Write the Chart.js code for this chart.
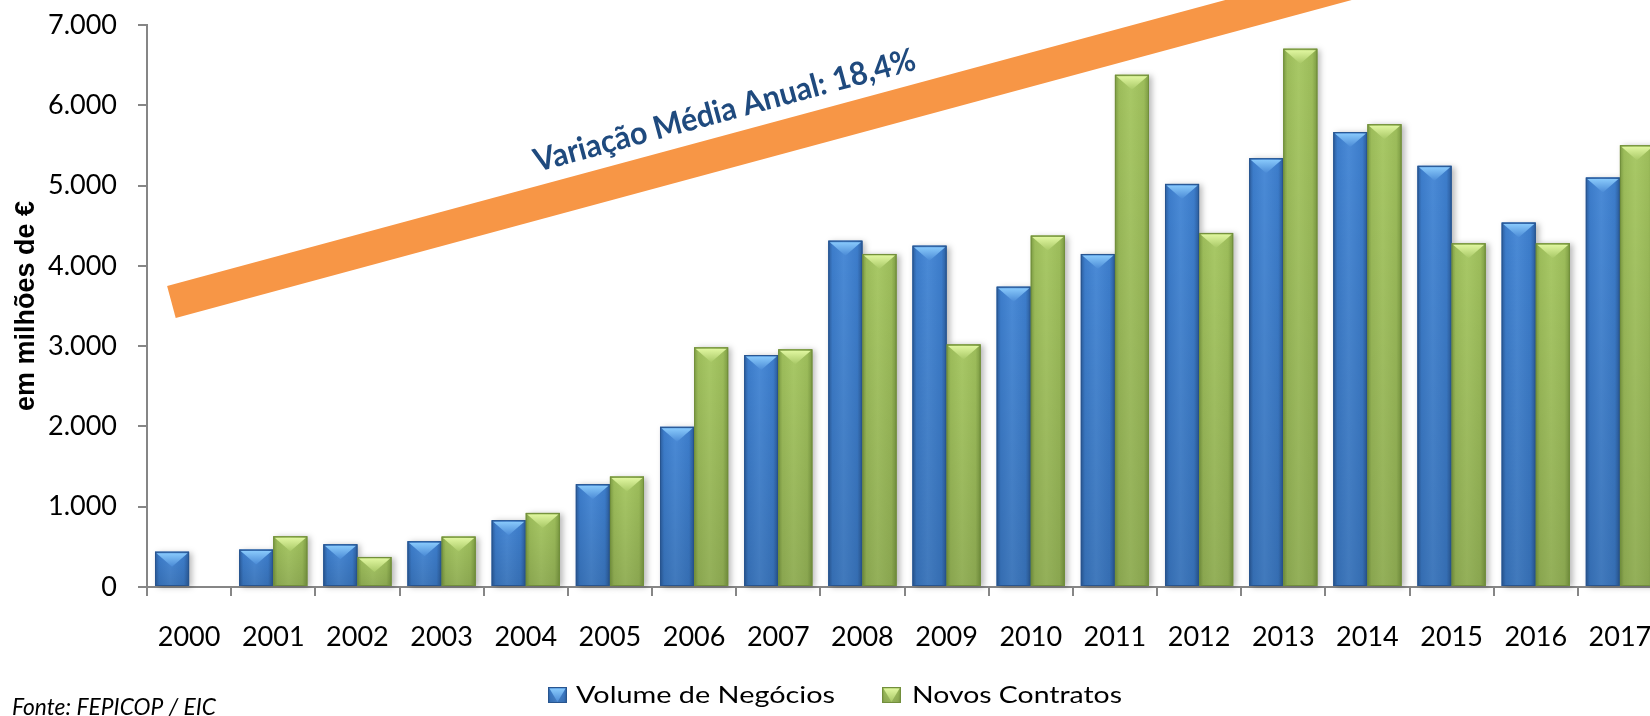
<!DOCTYPE html>
<html><head><meta charset="utf-8">
<script src="https://cdn.jsdelivr.net/npm/chart.js@4.4.1/dist/chart.umd.min.js"></script>
<style>
html,body{margin:0;padding:0;background:#fff;overflow:hidden;width:1650px;height:716px;}
#wrap{position:absolute;left:0;top:0;width:1700px;height:716px;}
</style></head><body>
<div id="wrap"><canvas id="c" width="1700" height="716"></canvas></div>
<script>
// ---- data ----
const years = ['2000','2001','2002','2003','2004','2005','2006','2007','2008','2009','2010','2011','2012','2013','2014','2015','2016','2017'];
const volumeNegocios = [440,466,532,570,832,1281,1995,2889,4314,4252,3741,4148,5021,5341,5666,5246,4539,5100];
const novosContratos = [null,632,374,628,923,1376,2985,2960,4148,3022,4377,6380,4410,6705,5765,4281,4281,5503];
const seriesNames = ['Volume de Negócios','Novos Contratos'];
const yTickLabels = ['0','1.000','2.000','3.000','4.000','5.000','6.000','7.000'];
const yAxisTitle = 'em milhões de €';
const trendLabel = 'Variação Média Anual: 18,4%';
const trendStart = [-0.21, 3550];   // [category index, value]
const trendEnd = [14, 7577];
const sourceNote = 'Fonte: FEPICOP / EIC';

// ---- styles ----
const palettes = [
  {dark:'#2b5c9c', mid:'#3c7cca', light:'#4a8ad6', cap:'#8fd0ff', edge:'#28558f'},
  {dark:'#7b9a42', mid:'#9cbc5a', light:'#a8c866', cap:'#e6fba6', edge:'#728f3c'}
];
const FONT = 'Lato, "Open Sans", sans-serif';

function paintBar(ctx, left, top, right, bottom, p, shadow) {
  const w = right - left, h = bottom - top;
  if (h <= 0) return;
  ctx.save();
  if (shadow) {
    ctx.shadowColor = 'rgba(0,0,0,0.28)';
    ctx.shadowBlur = 6;
    ctx.shadowOffsetX = 3;
    ctx.shadowOffsetY = 1;
  }
  const g = ctx.createLinearGradient(left, 0, right, 0);
  g.addColorStop(0, p.dark);
  g.addColorStop(0.12, p.mid);
  g.addColorStop(0.45, p.light);
  g.addColorStop(0.85, p.mid);
  g.addColorStop(1, p.dark);
  ctx.fillStyle = g;
  ctx.fillRect(left, top, w, h);
  ctx.restore();
  ctx.save();
  const gv = ctx.createLinearGradient(0, top, 0, bottom);
  gv.addColorStop(0, 'rgba(0,0,0,0)');
  gv.addColorStop(1, 'rgba(0,0,0,0.12)');
  ctx.fillStyle = gv;
  ctx.fillRect(left, top, w, h);
  const capH = Math.min(15, h);
  const gc = ctx.createLinearGradient(0, top, 0, top + capH);
  gc.addColorStop(0, p.cap);
  gc.addColorStop(1, p.light);
  ctx.fillStyle = gc;
  ctx.beginPath();
  ctx.moveTo(left + 1.5, top + 1.5);
  ctx.lineTo(right - 1.5, top + 1.5);
  ctx.lineTo(left + w / 2, top + capH);
  ctx.closePath();
  ctx.fill();
  ctx.strokeStyle = p.edge;
  ctx.lineWidth = 1;
  ctx.strokeRect(left + 0.5, top + 0.5, w - 1, h - 1);
  ctx.restore();
}

const bevelPlugin = {
  id: 'bevel',
  afterDatasetsDraw(chart) {
    const ctx = chart.ctx;
    chart.data.datasets.forEach((ds, di) => {
      const meta = chart.getDatasetMeta(di);
      meta.data.forEach((el, i) => {
        if (ds.data[i] === null || ds.data[i] === undefined) return;
        const {x, y, base, width} = el.getProps(['x','y','base','width'], true);
        paintBar(ctx, x - width / 2, y, x + width / 2, base, palettes[di], true);
      });
    });
  }
};

const trendPlugin = {
  id: 'trend',
  beforeDatasetsDraw(chart) {
    const ctx = chart.ctx, xs = chart.scales.x, ys = chart.scales.y;
    const x0 = xs.getPixelForValue(trendStart[0]), y0 = ys.getPixelForValue(trendStart[1]);
    const x1 = xs.getPixelForValue(trendEnd[0]), y1 = ys.getPixelForValue(trendEnd[1]);
    ctx.save();
    ctx.strokeStyle = '#f79646';
    ctx.lineWidth = 33;
    ctx.lineCap = 'butt';
    ctx.beginPath();
    ctx.moveTo(x0, y0);
    ctx.lineTo(x1, y1);
    ctx.stroke();
    const ang = Math.atan2(y1 - y0, x1 - x0);
    ctx.translate(x0, y0);
    ctx.rotate(ang);
    ctx.font = 'bold 32px ' + FONT;
    const tw = ctx.measureText(trendLabel).width;
    const target = 394;
    ctx.translate(387, -30);
    ctx.scale(target / tw, 1);
    ctx.fillStyle = '#1f4a7e';
    ctx.textBaseline = 'alphabetic';
    ctx.textAlign = 'left';
    ctx.fillText(trendLabel, 0, 0);
    ctx.restore();
  }
};

function stretchedText(ctx, text, x, y, targetW) {
  const w = ctx.measureText(text).width;
  ctx.save();
  ctx.translate(x, y);
  ctx.scale(targetW / w, 1);
  ctx.fillText(text, 0, 0);
  ctx.restore();
}

const legendPlugin = {
  id: 'customLegend',
  afterDraw(chart) {
    const ctx = chart.ctx;
    const items = [{sx:548, tx:576, tw:259}, {sx:882, tx:912, tw:210}];
    const cy = 695;
    ctx.save();
    ctx.font = '24px ' + FONT;
    ctx.textBaseline = 'middle';
    ctx.textAlign = 'left';
    chart.data.datasets.forEach((ds, di) => {
      const it = items[di];
      paintBar(ctx, it.sx, cy - 8, it.sx + 19, cy + 8, palettes[di], false);
      ctx.fillStyle = '#000';
      stretchedText(ctx, ds.label, it.tx, cy, it.tw);
    });
    ctx.font = 'italic 23px ' + FONT;
    ctx.textBaseline = 'alphabetic';
    ctx.fillStyle = '#000';
    stretchedText(ctx, sourceNote, 12, 715, 204);
    ctx.restore();
  }
};

Chart.defaults.color = '#000';
Chart.defaults.font.family = FONT;

new Chart(document.getElementById('c'), {
  type: 'bar',
  data: {
    labels: years,
    datasets: [
      {label: seriesNames[0], data: volumeNegocios, backgroundColor: palettes[0].mid, borderWidth: 0},
      {label: seriesNames[1], data: novosContratos, backgroundColor: palettes[1].mid, borderWidth: 0}
    ]
  },
  options: {
    responsive: false,
    animation: false,
    events: [],
    devicePixelRatio: 1,
    categoryPercentage: 0.81,
    barPercentage: 1.0,
    layout: {padding: {left: 0, right: 38, top: 25, bottom: 0}},
    plugins: {legend: {display: false}, tooltip: {enabled: false}},
    scales: {
      x: {
        offset: true,
        grid: {offset: true, drawOnChartArea: false, drawTicks: true, tickLength: 9, color: '#868686', lineWidth: 2},
        border: {color: '#868686', width: 2},
        ticks: {font: {size: 27, family: FONT}, padding: 25, maxRotation: 0, autoSkip: false, color: '#000'},
        afterFit: (s) => { s.height = 129; s.paddingLeft = 0; s.paddingRight = 0; }
      },
      y: {
        min: 0, max: 7000,
        ticks: {stepSize: 1000, font: {size: 27, family: FONT}, padding: 21, color: '#000',
                callback: (v, i) => yTickLabels[i]},
        grid: {drawOnChartArea: false, drawTicks: true, tickLength: 9, color: '#868686', lineWidth: 2},
        border: {color: '#868686', width: 2},
        title: {display: true, text: yAxisTitle, color: '#000',
                font: {size: 27, weight: 'bold', family: '"Liberation Sans", Arial, sans-serif'},
                padding: {top: 10, bottom: 0}},
        afterFit: (s) => { s.width = 147; s.paddingTop = 0; s.paddingBottom = 0; }
      }
    }
  },
  plugins: [trendPlugin, bevelPlugin, legendPlugin]
});
</script>
</body></html>
